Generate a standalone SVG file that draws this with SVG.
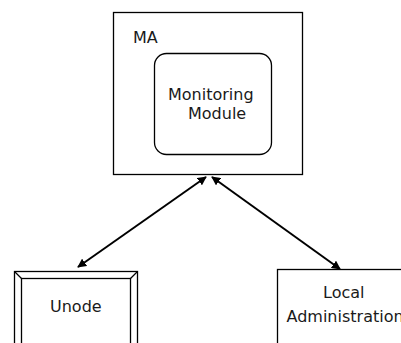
<svg xmlns="http://www.w3.org/2000/svg" width="401" height="343" viewBox="0 0 401 343">
  <style>
    .box { fill: #ffffff; stroke: #000000; stroke-width: 1.3; }
    .bevel { fill: none; stroke: #000000; stroke-width: 1.3; }
    .label { font-family: "DejaVu Sans", sans-serif; font-size: 16px; fill: #1a1a1a; }
    .link { fill: none; stroke: #000000; stroke-width: 2; marker-start: url(#head); marker-end: url(#head); }
  </style>
  <defs>
    <marker id="head" viewBox="0 0 10 10" refX="9" refY="5" markerWidth="4.5" markerHeight="4.5" orient="auto-start-reverse" markerUnits="strokeWidth">
      <path d="M0,0 L10,5 L0,10 z" fill="#000000"/>
    </marker>
  </defs>
  <rect width="401" height="343" fill="#ffffff"/>

  <g id="ma">
    <rect class="box" x="113.5" y="12.5" width="189" height="162"/>
    <text class="label" x="133" y="43">MA</text>
  </g>

  <g id="monitoring-module">
    <rect class="box" x="154.5" y="53.5" width="117" height="101" rx="12" ry="12"/>
    <text class="label" x="168" y="100">Monitoring</text>
    <text class="label" x="188" y="119">Module</text>
  </g>

  <g id="unode">
    <rect class="box" x="14.5" y="271.5" width="123" height="80"/>
    <rect class="bevel" x="21.5" y="278.5" width="109" height="66"/>
    <line class="bevel" x1="14.5" y1="271.5" x2="21.5" y2="278.5"/>
    <line class="bevel" x1="137.5" y1="271.5" x2="130.5" y2="278.5"/>
    <text class="label" x="50" y="312">Unode</text>
  </g>

  <g id="local-administration">
    <rect class="box" x="277.5" y="269.5" width="140" height="90"/>
    <text class="label" x="323" y="298">Local</text>
    <text class="label" x="286.5" y="321.5">Administration</text>
  </g>

  <g id="connectors">
    <line class="link" x1="206" y1="177" x2="78" y2="267"/>
    <line class="link" x1="212" y1="177" x2="340" y2="269"/>
  </g>
</svg>
